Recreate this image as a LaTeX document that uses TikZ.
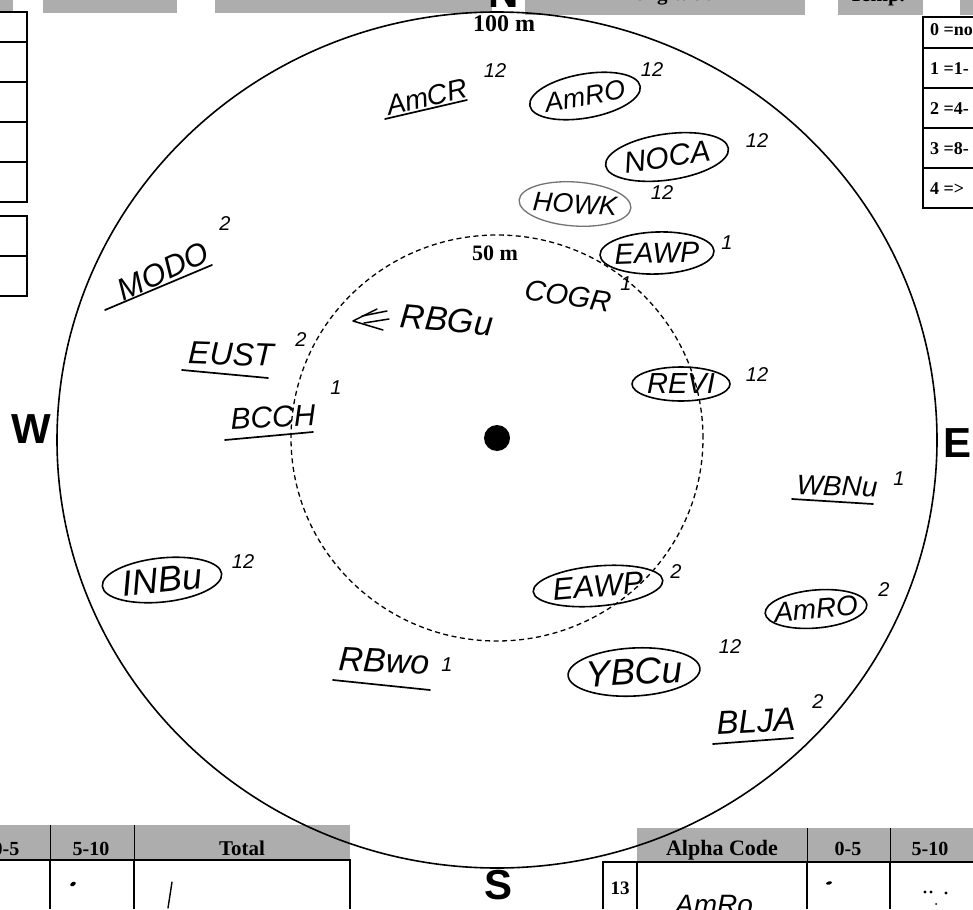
\documentclass[tikz,border=0pt]{standalone}
\usepackage{fontspec}
\setmainfont{Liberation Serif}
\newfontfamily\handfont{Liberation Sans}
\newfontfamily\dirfont{Liberation Sans}
\usetikzlibrary{shapes.geometric}
\newcommand\fsz[1]{\fontsize{#1}{#1}\selectfont}
\newcommand\zw[1]{\makebox[0pt]{#1}}
\tikzset{
 hdr/.style={fill=black!32},
 frame/.style={line width=1.3pt},
 thinsep/.style={line width=0.7pt},
 hand/.style={font=\handfont\itshape, inner sep=0pt},
 ring/.style={draw, ellipse, line width=1.6pt, inner sep=0pt, font=\handfont\itshape},
 uline/.style={line width=1.7pt, line cap=round, line join=round},
 supx/.style={font=\handfont\itshape\fsz{20}, inner sep=0pt},
 dirl/.style={font=\dirfont\bfseries\fsz{42}, inner sep=0pt, anchor=base},
 lab/.style={font=\bfseries, inner sep=0pt, anchor=base},
}
\begin{document}
\begin{tikzpicture}[x=1pt,y=-1pt]
\useasboundingbox (0,0) rectangle (973,909);
\clip (0,0) rectangle (973,909);
\fill[white] (0,0) rectangle (973,909);

% top header bars
\fill[hdr] (0,0) rectangle (13,13);
\fill[hdr] (43,0) rectangle (177,13);
\fill[hdr] (215,0) rectangle (492,13);
\fill[hdr] (525,0) rectangle (805,15);
\fill[hdr] (838,0) rectangle (923,15);
\fill[hdr] (960,0) rectangle (973,15);
\node[lab, font=\bfseries\fsz{21}] (lon) at (667,1) {Longitude};
\node[lab, font=\bfseries\fsz{21}] (tmp) at (877,1.5) {Temp.};

% top-left boxes
\draw[frame] (0,12) -- (27,12) -- (27,202) -- (0,202);
\foreach \yy in {42,82,122,162} \draw[frame] (0,\yy) -- (27,\yy);
\draw[frame] (0,216) -- (27,216) -- (27,296) -- (0,296);
\draw[frame] (0,256) -- (27,256);

% right legend
\draw[frame] (973,17) -- (923,17) -- (923,208) -- (973,208);
\foreach \yy in {48,88,128,168} \draw[frame] (923,\yy) -- (973,\yy);
\node[lab, anchor=base west, font=\bfseries\fsz{18}] (k0) at (930,36) {0 =no};
\node[lab, anchor=base west, font=\bfseries\fsz{18}] (k1) at (930,75) {1 =1-};
\node[lab, anchor=base west, font=\bfseries\fsz{18}] (k2) at (930,115) {2 =4-};
\node[lab, anchor=base west, font=\bfseries\fsz{18}] (k3) at (930,155) {3 =8-};
\node[lab, anchor=base west, font=\bfseries\fsz{18}] (k4) at (930,195) {4 =>};

% bottom-left table
\fill[hdr] (0,825) rectangle (350,860);
\draw[thinsep] (50,825) -- (50,860) (134,825) -- (134,860);
\draw[frame] (0,860) -- (350,860) -- (350,909);
\draw[frame] (50,860) -- (50,909) (134,860) -- (134,909);
\node[lab, font=\bfseries\fsz{20}] (h05a) at (6,855) {0-5};
\node[lab, font=\bfseries\fsz{20}] (h510a) at (91,855) {5-10};
\node[lab, font=\bfseries\fsz{21}] (htot) at (242,855) {Total};
\fill[rotate around={30:(73,884)}] (73,884) ellipse [x radius=3pt, y radius=2pt];
\draw[uline, line width=1.4pt] (172,882) -- (168,908);

% bottom-right table
\fill[hdr] (637,828) rectangle (973,861);
\draw[thinsep] (807,828) -- (807,861) (890,828) -- (890,861);
\draw[frame] (603,909) -- (603,862) -- (973,862);
\draw[frame] (637,862) -- (637,909) (807,862) -- (807,909) (890,862) -- (890,909);
\node[lab, font=\bfseries\fsz{22}] (halpha) at (722,855) {Alpha Code};
\node[lab, font=\bfseries\fsz{20}] (h05b) at (848,855) {0-5};
\node[lab, font=\bfseries\fsz{20}] (h510b) at (930,855) {5-10};
\node[lab, font=\bfseries\fsz{19}] (n13) at (620,894) {13};
\node[hand, font=\handfont\itshape\fsz{28}] (tamro) at (714,905) {AmRo};
\fill[rotate around={15:(829,883)}] (829,883) ellipse [x radius=3pt, y radius=1.6pt];
\fill (925,892) circle [radius=1.6pt];
\fill (931,892) circle [radius=1.6pt];
\fill (946,893) circle [radius=1.6pt];
\fill (936,904) circle [radius=1pt];

% circles
\draw[line width=1.6pt] (497,440) ellipse [x radius=440pt, y radius=428pt];
\draw[line width=1.3pt, dash pattern=on 5pt off 3.5pt] (497,438) ellipse [x radius=206pt, y radius=203pt];
\node[circle, fill, minimum size=26pt, inner sep=0pt] (ctr) at (497,438) {};

% compass letters and distances
\node[dirl] (N) at (504,8) {N};
\node[dirl] (W) at (31,443) {W};
\node[dirl] (E) at (957,457) {E};
\node[dirl] (S) at (498,899) {S};
\node[lab, font=\bfseries\fsz{24}] (d100) at (504,32) {100 m};
\node[lab, font=\bfseries\fsz{22}] (d50) at (495,260) {50 m};

% circled codes
\node[ring, rotate=10, minimum width=112pt, minimum height=44pt, font=\handfont\itshape\fsz{27}] (amroA) at (585,96) {\zw{AmRO}};
\node[supx] (s1) at (652,70) {12};
\node[ring, rotate=8, minimum width=124pt, minimum height=46pt, font=\handfont\itshape\fsz{30}] (noca) at (667,157) {\zw{NOCA}};
\node[supx] (s2) at (757,141) {12};
\node[ring, draw=black!55, line width=1.3pt, rotate=-4, minimum width=112pt, minimum height=44pt, font=\handfont\itshape\fsz{27}] (howk) at (575,204) {\zw{HOWK}};
\node[supx] (s3) at (662,193) {12};
\node[ring, rotate=2, minimum width=114pt, minimum height=42pt, font=\handfont\itshape\fsz{29}] (eawpA) at (657,253) {\zw{EAWP}};
\node[supx] (s4) at (727,243) {1};
\node[ring, minimum width=98pt, minimum height=34pt, font=\handfont\itshape\fsz{29}] (revi) at (681,384) {\zw{REVI}};
\node[supx] (s5) at (757,375) {12};
\node[ring, rotate=6, minimum width=120pt, minimum height=44pt, font=\handfont\itshape\fsz{36}] (inbu) at (162,580) {\zw{INBu}};
\node[supx] (s6) at (243,562) {12};
\node[ring, rotate=5, minimum width=130pt, minimum height=40pt, font=\handfont\itshape\fsz{31}] (eawpB) at (598,586) {\zw{EAWP}};
\node[supx] (s7) at (676,572) {2};
\node[ring, rotate=5, minimum width=102pt, minimum height=38pt, font=\handfont\itshape\fsz{28}] (amroB) at (816,609) {\zw{AmRO}};
\node[supx] (s8) at (884,590) {2};
\node[ring, rotate=3, minimum width=132pt, minimum height=48pt, font=\handfont\itshape\fsz{37}] (ybcu) at (634,672) {\zw{YBCu}};
\node[supx] (s9) at (730,647) {12};

% underlined codes
\node[hand, rotate=13, font=\handfont\itshape\fsz{28}] (amcr) at (427,97) {AmCR};
\draw[uline] (385,119) -- (467,100);
\node[supx] (s10) at (495,71) {12};
\node[hand, rotate=25, font=\handfont\itshape\fsz{31}] (modo) at (163,271) {MODO};
\draw[uline] (105,310) -- (212,265);
\node[supx] (s11) at (225,224) {2};
\node[hand, rotate=-2, font=\handfont\itshape\fsz{32}] (eust) at (231,354) {EUST};
\draw[uline] (182,370) -- (268,378);
\node[supx] (s12) at (301,340) {2};
\node[hand, rotate=3, font=\handfont\itshape\fsz{30}] (bcch) at (273,417) {BCCH};
\draw[uline] (225,440) -- (313,432);
\node[supx] (s13) at (336,388) {1};
\node[hand, rotate=-2, font=\handfont\itshape\fsz{28}] (wbnu) at (837,486) {WBNu};
\draw[uline] (792,499) -- (873,504);
\node[supx] (s14) at (899,479) {1};
\node[hand, rotate=-3, font=\handfont\itshape\fsz{34}] (rbwo) at (384,661) {RBwo};
\draw[uline] (333,680) -- (430,690);
\node[supx] (s15) at (447,665) {1};
\node[hand, rotate=3, font=\handfont\itshape\fsz{33}] (blja) at (756,721) {BLJA};
\draw[uline] (713,744) -- (793,738);
\node[supx] (s16) at (818,702) {2};

% plain codes
\node[hand, rotate=-8, font=\handfont\itshape\fsz{29}] (cogr) at (568,296) {COGR};
\node[supx] (s17) at (626,284) {1};
\node[hand, rotate=-5, font=\handfont\itshape\fsz{34}] (rbgu) at (447,320) {RBGu};
\coordinate (arrtip) at (353,321);
\draw[uline, line width=1.5pt] (377,309) -- (arrtip) -- (383,330);
\draw[uline, line width=1.5pt] (362,316) -- (387,311);
\draw[uline, line width=1.5pt] (364,323) -- (389,319);
\end{tikzpicture}
\end{document}
